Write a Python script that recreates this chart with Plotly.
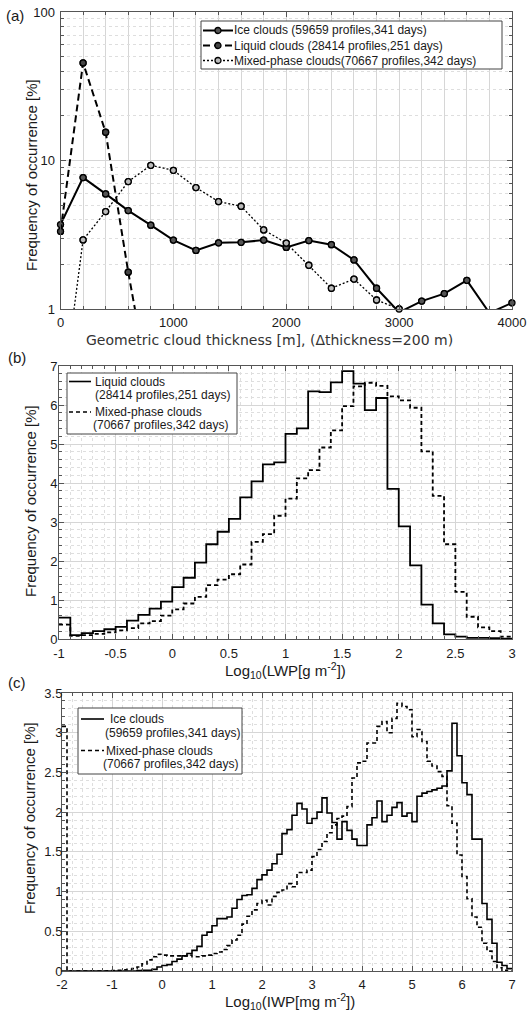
import numpy as np
import plotly.graph_objects as go

W, H = 529, 1012

# ------------------------------------------------------------------ data
# (a) geometric cloud thickness [m]
thick_m = [0, 200, 400, 600, 800, 1000, 1200, 1400, 1600, 1800, 2000,
           2200, 2400, 2600, 2800, 3000, 3200, 3400, 3600, 3800, 4000]
ice_a = [3.70, 7.67, 5.96, 4.60, 3.67, 2.91, 2.48, 2.79, 2.81, 2.91, 2.60,
         2.89, 2.71, 2.14, 1.38, 0.95, 1.13, 1.27, 1.56, 0.94, 1.10]
liquid_a = [3.33, 45.4, 15.5, 1.77, 0.26]
mixed_a = [0.20, 2.92, 4.53, 7.21, 9.28, 8.59, 6.57, 5.29, 4.92, 3.41, 2.78,
           1.97, 1.38, 1.59, 1.15, 1.00]
a_names = ["Ice clouds (59659 profiles,341 days)",
           "Liquid clouds (28414 profiles,251 days)",
           "Mixed-phase clouds(70667 profiles,342 days)"]
a_xtick_vals = [0, 1000, 2000, 3000, 4000]
a_xtick_text = ["0", "1000", "2000", "3000", "4000"]
a_ytick_vals = [1, 10, 100]
a_ytick_text = ["1", "10", "100"]
a_yminor_vals = [2, 3, 4, 5, 6, 7, 8, 9, 20, 30, 40, 50, 60, 70, 80, 90]

# (b) Log10(LWP) histogram, bin width 0.1 from -1 to 3
lwp_edges = np.round(np.arange(-1.0, 3.0001, 0.1), 1)
liquid_b = [0.55, 0.10, 0.15, 0.20, 0.25, 0.31, 0.47, 0.62, 0.78, 0.96,
            1.33, 1.57, 1.96, 2.43, 2.75, 3.08, 3.63, 4.04, 4.48, 4.53,
            5.26, 5.40, 6.35, 6.33, 6.58, 6.87, 6.55, 5.87, 6.18, 3.85,
            2.89, 1.89, 0.88, 0.40, 0.12, 0.06, 0.03, 0.03, 0.02, 0.01]
mixed_b = [0.37, 0.08, 0.10, 0.13, 0.17, 0.22, 0.28, 0.40, 0.46, 0.60,
           0.76, 0.91, 1.08, 1.38, 1.52, 1.66, 1.91, 2.49, 2.69, 3.16,
           3.60, 4.12, 4.33, 4.91, 5.35, 5.97, 6.48, 6.57, 6.49, 6.22,
           6.12, 5.93, 4.81, 3.67, 2.43, 1.21, 0.57, 0.30, 0.20, 0.06]
b_names = [("Liquid clouds", "(28414 profiles,251 days)"),
           ("Mixed-phase clouds", "(70667 profiles,342 days)")]
b_xtick_vals = [-1, -0.5, 0, 0.5, 1, 1.5, 2, 2.5, 3]
b_xtick_text = ["-1", "-0.5", "0", "0.5", "1", "1.5", "2", "2.5", "3"]
b_ytick_vals = [0, 1, 2, 3, 4, 5, 6, 7]
b_ytick_text = ["0", "1", "2", "3", "4", "5", "6", "7"]

# (c) Log10(IWP) histogram, bin width 0.1 from -2 to 7
iwp_edges = np.round(np.arange(-2.0, 7.0001, 0.1), 1)
ice_c = [0, 0, 0, 0, 0, 0, 0, 0, 0, 0, 0, 0, 0, 0, 0,
         0.005, 0.01, 0.01, 0.02, 0.05,
         0.07, 0.08, 0.12, 0.15, 0.19, 0.22, 0.26, 0.31, 0.45, 0.49,
         0.57, 0.66, 0.66, 0.68, 0.79, 0.90, 0.95, 0.96, 1.04, 1.15,
         1.21, 1.27, 1.35, 1.47, 1.73, 1.78, 1.96, 2.11, 2.04, 1.86,
         1.92, 2.00, 2.18, 1.99, 1.87, 1.66, 1.88, 1.77, 1.66, 1.58,
         1.58, 1.84, 1.93, 2.14, 1.88, 1.96, 2.06, 2.12, 1.95, 1.99,
         1.88, 2.20, 2.24, 2.26, 2.28, 2.30, 2.33, 2.52, 3.12, 2.71,
         2.37, 2.22, 1.66, 1.66, 0.85, 0.65, 0.35, 0.11, 0.07, 0.03]
mixed_c = [3.08, 0, 0, 0, 0, 0, 0, 0, 0,
           0.002, 0.005, 0.01, 0.015, 0.02, 0.03, 0.05, 0.09, 0.14, 0.18, 0.21,
           0.20, 0.19, 0.19, 0.19, 0.19, 0.20, 0.18, 0.18, 0.19, 0.20,
           0.22, 0.24, 0.27, 0.32, 0.39, 0.45, 0.59, 0.69, 0.77, 0.85,
           0.89, 0.83, 0.94, 0.99, 1.02, 1.10, 1.06, 1.24, 1.24, 1.27,
           1.44, 1.53, 1.63, 1.74, 1.84, 1.92, 1.95, 2.07, 2.43, 2.62,
           2.64, 2.87, 2.87, 3.08, 3.14, 3.00, 3.18, 3.37, 3.33, 3.29,
           2.95, 3.04, 2.89, 2.64, 2.58, 2.51, 2.45, 2.08, 1.86, 1.46,
           1.19, 0.91, 0.68, 0.55, 0.35, 0.25, 0.12, 0.04, 0.01, 0.0]
c_names = [("Ice clouds", "(59659 profiles,341 days)"),
           ("Mixed-phase clouds", "(70667 profiles,342 days)")]
c_xtick_vals = [-2, -1, 0, 1, 2, 3, 4, 5, 6, 7]
c_xtick_text = ["-2", "-1", "0", "1", "2", "3", "4", "5", "6", "7"]
c_ytick_vals = [0, 0.5, 1, 1.5, 2, 2.5, 3, 3.5]
c_ytick_text = ["0", "0.5", "1", "1.5", "2", "2.5", "3", "3.5"]

# ------------------------------------------------------------------ layout helpers
def fx(p):
    return p / W


def fy(p):
    return 1 - p / H


A_X, A_Y = (60.5, 512), (12, 309)
B_X, B_Y = (59, 512), (366, 639)
C_X, C_Y = (62, 512), (693, 971)

FAM = "Liberation Sans, Arial, sans-serif"
TICKFONT = dict(family=FAM, size=13, color="#1a1a1a")
LEGFONT = dict(family=FAM, size=12, color="#1a1a1a")
AXCOL = "#555555"
GRIDCOL = "#d6d6d6"
MINCOL = "#dedede"
A_STYLES = [("solid", 2.0, "#555555"), ("7px,4px", 2.0, "#444444"), ("2px,2px", 1.3, "#bbbbbb")]
HIST_DASH = ["solid", "4px,3px"]


def stairs(edges, vals):
    return list(edges), list(vals) + [vals[-1]]


fig = go.Figure()

# ---- (a)
for vals, (dash, lw, mfill), name in zip([ice_a, liquid_a, mixed_a], A_STYLES, a_names):
    xs = thick_m[:len(vals)]
    fig.add_trace(go.Scatter(
        x=xs, y=vals, mode="lines+markers", name=name, showlegend=False,
        line=dict(color="black", width=lw, dash=dash),
        marker=dict(symbol="circle", size=6, color=mfill,
                    line=dict(color="black", width=1.3)),
        xaxis="x", yaxis="y", cliponaxis=True))
    inx = [x for x, v in zip(xs, vals) if 1 <= v <= 100]
    inv = [v for v in vals if 1 <= v <= 100]
    fig.add_trace(go.Scatter(
        x=inx, y=inv, mode="markers", showlegend=False, name=name,
        marker=dict(symbol="circle", size=6, color=mfill,
                    line=dict(color="black", width=1.3)),
        xaxis="x", yaxis="y", cliponaxis=False, hoverinfo="skip"))

# ---- (b)
for vals, dash, name in zip([liquid_b, mixed_b], HIST_DASH, b_names):
    xs, ys = stairs(lwp_edges, vals)
    fig.add_trace(go.Scatter(
        x=xs, y=ys, mode="lines", name=" ".join(name), line_shape="hv",
        showlegend=False, line=dict(color="black", width=1.8, dash=dash),
        xaxis="x2", yaxis="y2"))

# ---- (c)
for vals, dash, name in zip([ice_c, mixed_c], HIST_DASH, c_names):
    xs, ys = stairs(iwp_edges, vals)
    fig.add_trace(go.Scatter(
        x=xs, y=ys, mode="lines", name=" ".join(name), line_shape="hv",
        showlegend=False, line=dict(color="black", width=1.6, dash=dash),
        xaxis="x3", yaxis="y3"))


def axis(domain, rng, tickvals, ticktext, anchor, minor=None, standoff=0):
    d = dict(domain=domain, range=rng, tickmode="array", tickvals=tickvals,
             ticktext=ticktext, anchor=anchor, ticks="inside", ticklen=5,
             tickwidth=1, tickcolor=AXCOL, mirror="allticks", showline=True,
             linecolor=AXCOL, linewidth=1, showgrid=True, gridcolor=GRIDCOL,
             gridwidth=1, zeroline=False, tickfont=TICKFONT,
             ticklabelstandoff=standoff, automargin=False, fixedrange=True)
    if minor is not None:
        d["minor"] = minor
    return d


def minor_lin(dt, t0, dash="dot", col=MINCOL):
    return dict(dtick=dt, tick0=t0, ticks="inside", ticklen=3, tickcolor=AXCOL,
                showgrid=True, gridcolor=col, griddash=dash, gridwidth=1)


xa = lambda r: [fx(r[0]), fx(r[1])]
ya = lambda r: [fy(r[1]), fy(r[0])]

yaxis_a = axis(ya(A_Y), [0, 2], a_ytick_vals, a_ytick_text, "x",
               minor=dict(tickmode="array", tickvals=a_yminor_vals, ticks="inside",
                          ticklen=3, tickcolor=AXCOL, showgrid=True,
                          gridcolor=MINCOL, griddash="dot", gridwidth=1),
               standoff=2)
yaxis_a["type"] = "log"

fig.update_layout(
    width=W, height=H, margin=dict(l=0, r=0, t=0, b=0, pad=0, autoexpand=False),
    paper_bgcolor="white", plot_bgcolor="white", showlegend=False,
    xaxis=axis(xa(A_X), [0, 4000], a_xtick_vals, a_xtick_text, "y",
               minor=minor_lin(200, 0, dash="solid", col=GRIDCOL), standoff=1),
    yaxis=yaxis_a,
    xaxis2=axis(xa(B_X), [-1, 3], b_xtick_vals, b_xtick_text, "y2",
                minor=minor_lin(0.1, -1), standoff=2),
    yaxis2=axis(ya(B_Y), [0, 7], b_ytick_vals, b_ytick_text, "x2",
                minor=minor_lin(0.2, 0), standoff=-2),
    xaxis3=axis(xa(C_X), [-2, 7], c_xtick_vals, c_xtick_text, "y3",
                minor=minor_lin(0.2, -2), standoff=1),
    yaxis3=axis(ya(C_Y), [0, 3.5], c_ytick_vals, c_ytick_text, "x3",
                minor=minor_lin(0.1, 0), standoff=-4),
)


# ------------------------------------------------------------------ legends (boxes, samples, text)
def legend_box(x0, y0, x1, y1):
    fig.add_shape(type="rect", xref="paper", yref="paper",
                  x0=fx(x0), x1=fx(x1), y0=fy(y1), y1=fy(y0),
                  fillcolor="white", line=dict(color="#444444", width=1), layer="above")


def legend_sample(x0, x1, y, dash, lw, mfill=None):
    fig.add_shape(type="line", xref="paper", yref="paper",
                  x0=fx(x0), x1=fx(x1), y0=fy(y), y1=fy(y),
                  line=dict(color="black", width=lw, dash=dash), layer="above")
    if mfill is not None:
        xm = (x0 + x1) / 2
        fig.add_shape(type="circle", xref="paper", yref="paper",
                      x0=fx(xm - 3), x1=fx(xm + 3), y0=fy(y + 3), y1=fy(y - 3),
                      fillcolor=mfill, line=dict(color="black", width=1.3), layer="above")


def legend_text(text, x, y):
    fig.add_annotation(text=text, x=fx(x), y=fy(y), xref="paper", yref="paper",
                       xanchor="left", yanchor="middle", showarrow=False,
                       font=LEGFONT, borderpad=0)


# (a)
legend_box(201, 21, 502, 69)
for name, (dash, lw, mfill), yy in zip(a_names, A_STYLES, [30.5, 45.5, 60.5]):
    legend_sample(203, 233, yy, dash, lw, mfill)
    legend_text(name, 233, yy)

# (b)
legend_box(67, 373, 237, 434)
for (l1, l2), dash, yy, xt2 in zip(b_names, HIST_DASH, [381.5, 412], [93.5, 91.5]):
    legend_sample(69, 91, yy, dash, 1.6)
    legend_text(l1, 93.5, yy)
    legend_text(l2, xt2, yy + 13.5)

# (c)
legend_box(78, 708, 242, 774)
for (l1, l2), dash, yy, xt1, xt2 in zip(c_names, HIST_DASH, [719, 750.5],
                                        [109, 105], [103.5, 101.5]):
    legend_sample(81, 104, yy, dash, 1.6)
    legend_text(l1, xt1, yy)
    legend_text(l2, xt2, yy + 13.5)

# ------------------------------------------------------------------ titles / labels
TITLEFONT = dict(family=FAM, size=15, color="#1a1a1a")
ann = [
    ("(a)", 15, 15, 0, TITLEFONT),
    ("(b)", 17, 357, 0, TITLEFONT),
    ("(c)", 17, 682, 0, TITLEFONT),
    ("Frequency of occurrence [%]", 31, 175, -90, TITLEFONT),
    ("Frequency of occurrence [%]", 31, 501, -90, TITLEFONT),
    ("Frequency of occurrence [%]", 29, 818, -90, TITLEFONT),
    ("Geometric cloud thickness [m], (\u0394thickness=200 m)", 269, 340, 0,
     dict(family="DejaVu Sans", size=14, color="#333333")),
    ("Log<sub>10</sub>(LWP[g m<sup>-2</sup>])", 285, 670, 0, TITLEFONT),
    ("Log<sub>10</sub>(IWP[mg m<sup>-2</sup>])", 290, 1001, 0, TITLEFONT),
]
for text, x, y, ang, font in ann:
    fig.add_annotation(text=text, x=fx(x), y=fy(y), xref="paper", yref="paper",
                       xanchor="center", yanchor="middle", showarrow=False,
                       textangle=ang, font=font)

# remove the default page margin so the figure sits at the window's top-left corner
fig.write_html("out.html", config={"displayModeBar": False},
               post_script="document.body.style.margin='0px';"
                           "document.body.style.overflow='hidden';")
